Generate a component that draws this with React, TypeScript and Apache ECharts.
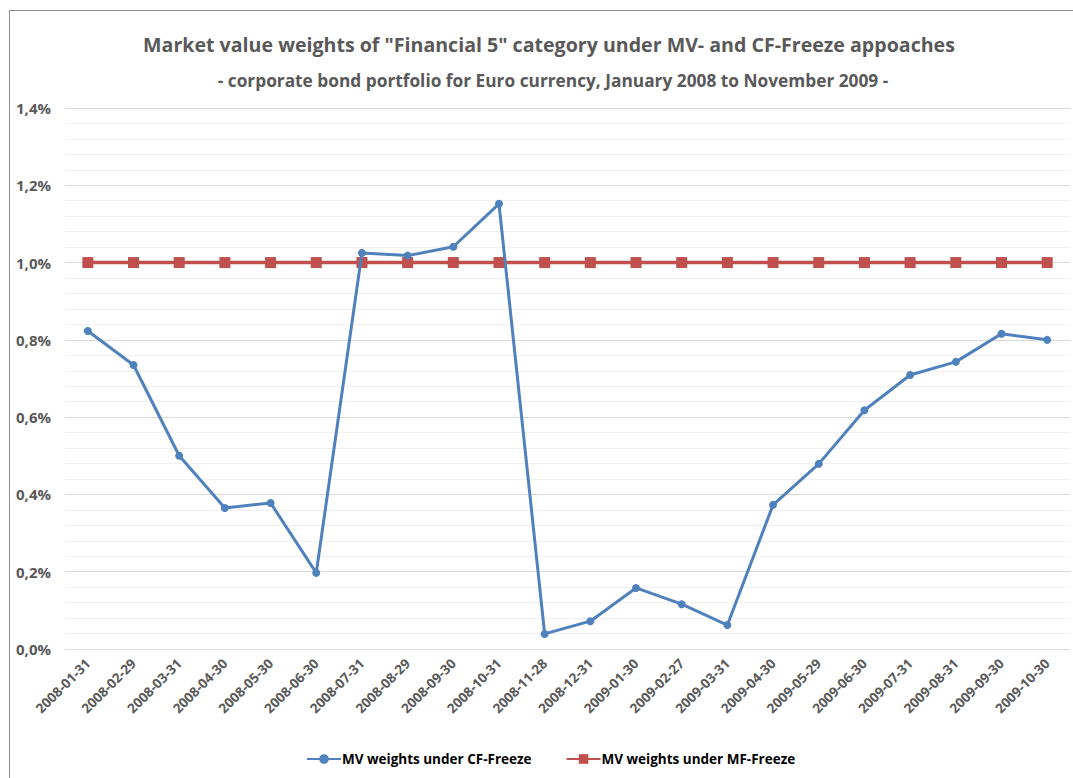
import React, { useEffect, useRef } from "react";
import * as echarts from "echarts";

const categories = [
  "2008-01-31", "2008-02-29", "2008-03-31", "2008-04-30", "2008-05-30", "2008-06-30",
  "2008-07-31", "2008-08-29", "2008-09-30", "2008-10-31", "2008-11-28", "2008-12-31",
  "2009-01-30", "2009-02-27", "2009-03-31", "2009-04-30", "2009-05-29", "2009-06-30",
  "2009-07-31", "2009-08-31", "2009-09-30", "2009-10-30",
];

const cfFreeze = [
  0.823, 0.735, 0.50, 0.365, 0.378, 0.197, 1.025, 1.018, 1.041, 1.152, 0.039,
  0.072, 0.158, 0.116, 0.062, 0.373, 0.479, 0.618, 0.709, 0.743, 0.816, 0.80,
];

const mfFreeze = [
  1.0, 1.0, 1.0, 1.0, 1.0, 1.0, 1.0, 1.0, 1.0, 1.0, 1.0,
  1.0, 1.0, 1.0, 1.0, 1.0, 1.0, 1.0, 1.0, 1.0, 1.0, 1.0,
];

const seriesNames = ["MV weights under CF-Freeze", "MV weights under MF-Freeze"];
const titleText = 'Market value weights of "Financial 5" category under MV- and CF-Freeze appoaches';
const subtitleText = "- corporate bond portfolio for Euro currency, January 2008 to November 2009 -";

const FONT = "'Open Sans', sans-serif";

export default function App() {
  const ref = useRef<HTMLDivElement>(null);
  useEffect(() => {
    if (!ref.current) return;
    const chart = echarts.init(ref.current, undefined, { renderer: "svg" });
    chart.setOption({
      animation: false,
      backgroundColor: "#ffffff",
      textStyle: { fontFamily: FONT },
      title: [
        {
          text: titleText,
          left: 544,
          textAlign: "center",
          top: 29,
          textStyle: { fontFamily: FONT, fontSize: 19.6, fontWeight: "bold", color: "#595959" },
        },
        {
          text: subtitleText,
          left: 548,
          textAlign: "center",
          top: 67,
          textStyle: { fontFamily: FONT, fontSize: 17.3, fontWeight: "bold", color: "#595959" },
        },
      ],
      graphic: [
        {
          type: "rect",
          shape: { x: 9.5, y: 10.5, width: 1200, height: 900 },
          style: { fill: "none", stroke: "#8c8c8c", lineWidth: 1 },
          silent: true,
        },
      ],
      legend: {
        bottom: 7,
        left: 301,
        itemGap: 34,
        itemWidth: 34,
        itemHeight: 12,
        textStyle: { fontFamily: FONT, fontSize: 13.5, fontWeight: "bold", color: "#000000", padding: [0, 0, 0, -4] },
        data: [seriesNames[0], seriesNames[1]],
      },
      grid: { left: 65, right: 3, top: 108, bottom: 129 },
      xAxis: {
        type: "category",
        data: categories,
        boundaryGap: true,
        axisLine: { show: true, lineStyle: { color: "#d9d9d9" } },
        axisTick: { show: false },
        axisLabel: {
          interval: 0,
          rotate: 45,
          margin: 12,
          fontFamily: FONT,
          fontSize: 13.5,
          fontWeight: "bold",
          color: "#595959",
        },
      },
      yAxis: {
        type: "value",
        min: 0,
        max: 1.4,
        interval: 0.2,
        axisLine: { show: false },
        axisTick: { show: false },
        axisLabel: {
          margin: 14,
          fontFamily: FONT,
          fontSize: 15,
          fontWeight: "bold",
          color: "#595959",
          formatter: (v: number) => v.toFixed(1).replace(".", ",") + "%",
        },
        splitLine: { show: true, lineStyle: { color: "#d9d9d9", width: 1 } },
        minorTick: { show: false, splitNumber: 5 },
        minorSplitLine: { show: true, lineStyle: { color: "#f0f0f0", width: 1 } },
      },
      series: [
        {
          name: seriesNames[0],
          type: "line",
          data: cfFreeze,
          symbol: "circle",
          symbolSize: 8,
          z: 3,
          lineStyle: { color: "#4f81bd", width: 3 },
          itemStyle: { color: "#4f81bd" },
        },
        {
          name: seriesNames[1],
          type: "line",
          data: mfFreeze,
          symbol: "rect",
          symbolSize: 11,
          z: 2,
          lineStyle: { color: "#c0504d", width: 3.5 },
          itemStyle: { color: "#c0504d" },
        },
      ],
    });
    return () => chart.dispose();
  }, []);
  return (
    <div
      ref={ref}
      style={{ position: "absolute", left: 0, top: 0, width: 1073, height: 778 }}
    />
  );
}
